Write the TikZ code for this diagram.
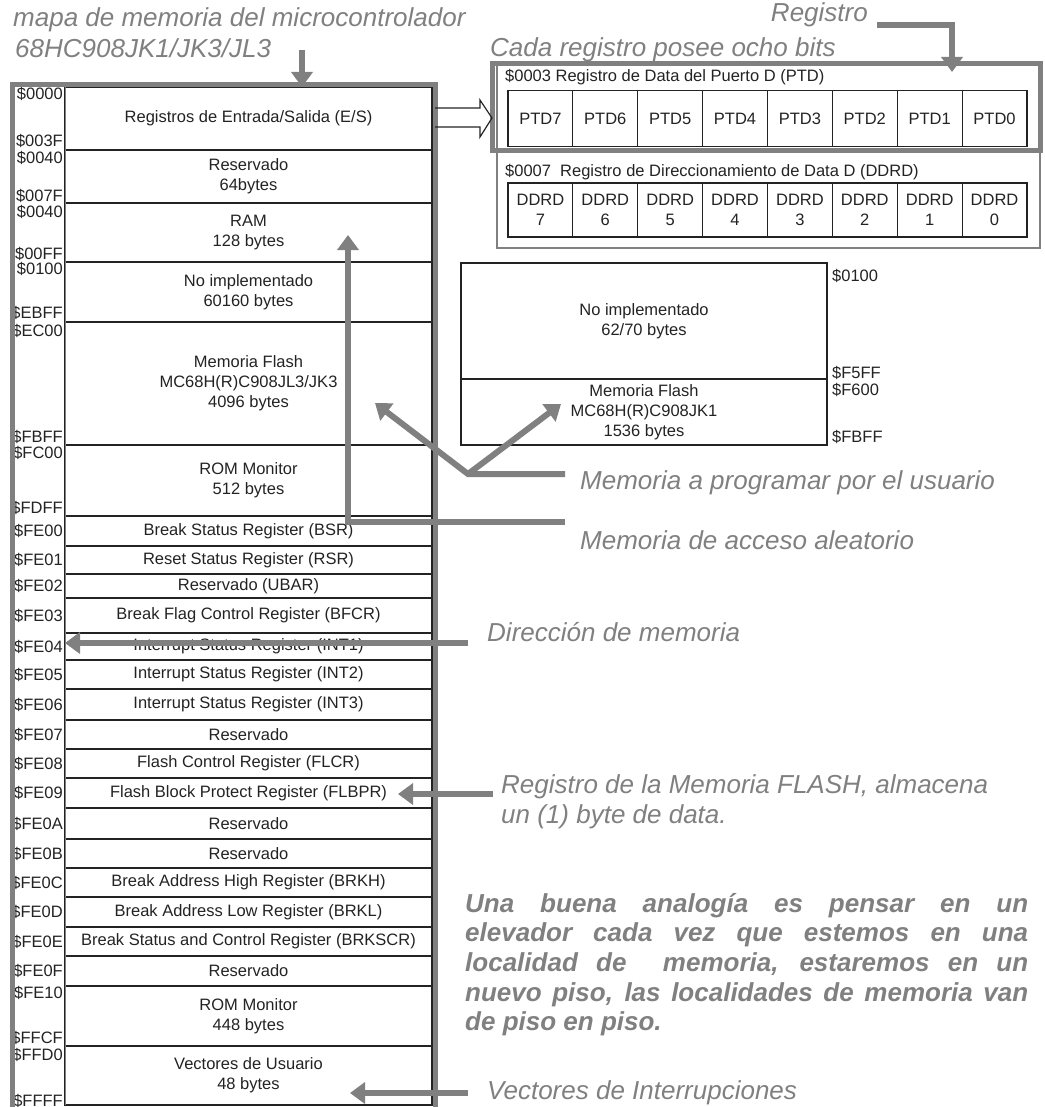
\documentclass[tikz,border=0pt]{standalone}
\usepackage{fontspec}
\setmainfont{Liberation Sans}
\usetikzlibrary{arrows.meta,calc,positioning}
\definecolor{notegray}{RGB}{128,128,128}
\definecolor{inkgray}{RGB}{35,35,35}
\newcommand{\rowfont}{\fontsize{16.5}{20}\selectfont}
\newcommand{\notefont}{\fontsize{26}{31}\selectfont\itshape}
\newcommand{\parafont}{\fontsize{26}{29.7}\selectfont\bfseries\itshape}
\tikzset{
  memrow/.style  = {draw=inkgray, line width=1.2pt, minimum width=367pt, inner sep=0pt,
                    outer sep=0pt, align=center, font=\rowfont, text=inkgray},
  jkbox/.style   = {memrow, minimum width=366pt},
  bitcell/.style = {draw=inkgray, line width=1.2pt, minimum width=64.875pt, inner sep=0pt,
                    outer sep=0pt, align=center, font=\rowfont, text=inkgray},
  addr/.style    = {anchor=east, inner sep=0pt, font=\rowfont, text=inkgray},
  reghead/.style = {anchor=west, inner sep=0pt, font=\rowfont, text=inkgray},
  note/.style    = {anchor=base west, inner sep=0pt, font=\notefont, text=notegray},
  para/.style    = {anchor=base west, inner sep=0pt, font=\parafont, text=notegray},
  pointer/.style = {draw=notegray, line width=6pt, -{Triangle[length=15pt,width=21pt]}},
  bar/.style     = {draw=notegray, line width=6pt},
  frame/.style   = {draw=notegray, line width=5pt},
  hollow/.style  = {draw=inkgray, line width=1.2pt, line join=miter},
}
\begin{document}
\begin{tikzpicture}[x=1pt,y=-1pt]
  \useasboundingbox (0,0) rectangle (1044,1107);
  \clip (0,0) rectangle (1044,1107);
  % memory map of the JK/JL family
  \foreach \ya/\yb/\nm/\txt in {
      87/150/io/{Registros de Entrada/Salida (E/S)},
      150/203/res1/{Reservado\\64bytes},
      203/262/ram/{RAM\\128 bytes},
      262/322/noimp/{No implementado\\60160 bytes},
      322/445/flash/{Memoria Flash\\MC68H(R)C908JL3/JK3\\4096 bytes},
      445/516/rom1/{ROM Monitor\\512 bytes},
      516/546/bsr/{Break Status Register (BSR)},
      546/574/rsr/{Reset Status Register (RSR)},
      574/598/ubar/{Reservado (UBAR)},
      598/633/bfcr/{Break Flag Control Register (BFCR)},
      633/660/int1/{Interrupt Status Register (INT1)},
      660/689/int2/{Interrupt Status Register (INT2)},
      689/720/int3/{Interrupt Status Register (INT3)},
      720/749/res2/{Reservado},
      749/778/flcr/{Flash Control Register (FLCR)},
      778/808/flbpr/{Flash Block Protect Register (FLBPR)},
      808/839/res3/{Reservado},
      839/868/res4/{Reservado},
      868/897/brkh/{Break Address High Register (BRKH)},
      897/927/brkl/{Break Address Low Register (BRKL)},
      927/956/brkscr/{Break Status and Control Register (BRKSCR)},
      956/986/res5/{Reservado},
      986/1046/rom2/{ROM Monitor\\448 bytes},
      1046/1105/vec/{Vectores de Usuario\\48 bytes}}
    \node[memrow, minimum height={(\yb-\ya)*1pt}] (\nm) at (248.5,{(\ya+\yb)/2}) {\txt};
  \draw[inkgray, line width=2.2pt] (int3.south west) -- (int3.south east);
  \foreach \y/\a [count=\k] in {94/0000, 141/003F, 158/0040, 196/007F, 212/0040, 254/00FF,
      269/0100, 313/EBFF, 331/EC00, 437/FBFF, 453/FC00, 508/FDFF, 531/FE00, 560/FE01,
      586/FE02, 615.5/FE03, 646.5/FE04, 674.5/FE05, 704.5/FE06, 734.5/FE07, 763.5/FE08,
      793/FE09, 823.5/FE0A, 853.5/FE0B, 882.5/FE0C, 912/FE0D, 941.5/FE0E, 971/FE0F,
      993/FE10, 1038/FFCF, 1055/FFD0, 1101/FFFF}
    \node[addr] (adr\k) at (63,\y) {\$\a};
  \draw[gray, line width=1pt] (io.north west) -- (vec.south west);
  \draw[frame] (12.5,84.5) rectangle (435,1115);

  % register PTD / DDRD
  \draw[gray, line width=1.2pt] (497,64) rectangle (1040,248);
  \node[reghead] (ptdhead) at (505,77) {\$0003 Registro de Data del Puerto D (PTD)};
  \node[reghead] (ddrdhead) at (505,172) {\$0007\ \ Registro de Direccionamiento de Data D (DDRD)};
  \foreach \i in {0,...,7} {
    \node[bitcell, minimum height=56pt] (ptd\i) at ({508+64.875*(7.5-\i)},118.5) {PTD\i};
    \node[bitcell, minimum height=54pt] (ddrd\i) at ({508+64.875*(7.5-\i)},210) {DDRD\\\i};
  }
  \draw[frame] (492,64) rectangle (1040,151);
  \coordinate (memR) at (435,118);
  \coordinate (regL) at (492,118);
  \draw[hollow] (memR |- 0,108) -- (480,108) -- (480,100) -- (regL)
      -- (480,137) -- (480,127) -- (memR |- 0,127);

  % JK1 flash
  \node[jkbox, minimum height=116pt] (jkfree) at (644,321) {No implementado\\62/70 bytes};
  \node[jkbox, minimum height=66pt] (jkflash) at (644,412) {Memoria Flash\\MC68H(R)C908JK1\\1536 bytes};
  \foreach \y/\a [count=\k] in {276/0100, 373/F5FF, 390/F600, 437/FBFF}
    \node[addr, anchor=west] (jkadr\k) at (832,\y) {\$\a};

  % notes and pointers
  \node[note] (title1) at (13,27) {mapa de memoria del microcontrolador};
  \node[note] (title2) at (15,58) {68HC908JK1/JK3/JL3};
  \coordinate (titlearr) at (302,50);
  \draw[pointer] (titlearr) -- (titlearr |- io.north);

  \node[note, anchor=base east] (regnote) at (868,22) {Registro};
  \coordinate (regstart) at (877,25);
  \coordinate (regtip) at (952,72);
  \draw[pointer] (regstart) -| (regtip);
  \node[note] (bitsnote) at (490,57) {Cada registro posee ocho bits};

  \coordinate (vtx) at (468,474);
  \coordinate (progend) at (565,474);
  \coordinate (flashtip) at (375,403);
  \coordinate (jktip) at (561,404);
  \draw[pointer] (progend) -- (vtx) -- (flashtip);
  \draw[pointer] (vtx) -- (jktip);
  \node[note] (prognote) at (580,489) {Memoria a programar por el usuario};

  \coordinate (ramstart) at (565,522);
  \coordinate (ramtip) at (348,235);
  \draw[pointer] (ramstart) -| (ramtip);
  \node[note] (ramnote) at (580,549) {Memoria de acceso aleatorio};

  \coordinate (dirstart) at (468,643);
  \draw[pointer] (dirstart) -- (int1.west |- dirstart);
  \node[note] (dirnote) at (487,641) {Dirección de memoria};

  \coordinate (flbstart) at (493,794);
  \coordinate (flbtip) at (398,794);
  \draw[pointer] (flbstart) -- (flbtip);
  \node[note] (flbnote1) at (501,793) {Registro de la Memoria FLASH, almacena};
  \node[note] (flbnote2) at (501,823) {un (1) byte de data.};

  \coordinate (vecstart) at (468,1093);
  \coordinate (vectip) at (350,1093);
  \draw[pointer] (vecstart) -- (vectip);
  \node[note] (vecnote) at (487,1099) {Vectores de Interrupciones};

  \foreach \pl [count=\k from 0] in {{Una buena analogía es pensar en un},
      {elevador cada vez que estemos en una},
      {localidad de\ \ memoria, estaremos en un},
      {nuevo piso, las localidades de memoria van}}
    \node[para] (par\k) at (465,{912+29.7*\k}) {\makebox[563pt][s]{\pl}};
  \node[para] (par4) at (465,{912+29.7*4}) {de piso en piso.};
\end{tikzpicture}
\end{document}
